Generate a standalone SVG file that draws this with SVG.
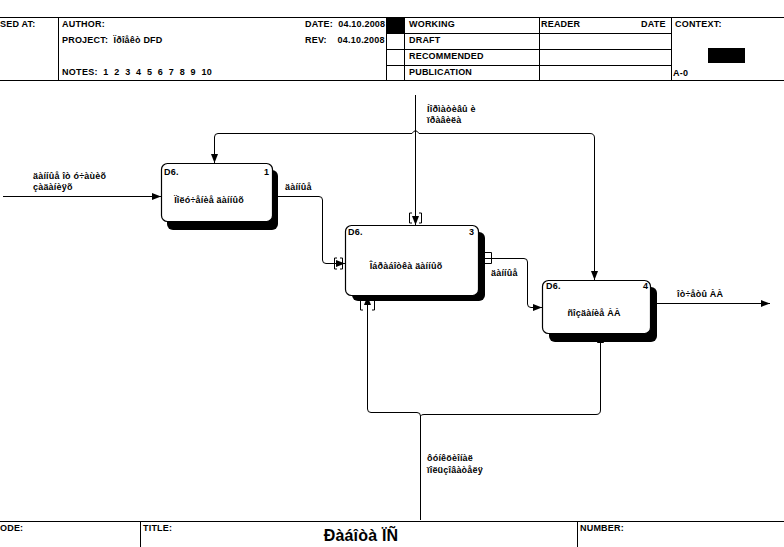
<svg xmlns="http://www.w3.org/2000/svg" width="784" height="547" viewBox="0 0 784 547">
<defs>
<style>
text{font-family:"Liberation Sans",Arial,sans-serif;font-weight:bold;font-size:9px;fill:#000;letter-spacing:0.2px;white-space:pre}
.ln{stroke:#000;stroke-width:1;fill:none}
.box{fill:#fff;stroke:#000;stroke-width:1.2}
.sh{fill:#000}
.mid{text-anchor:middle}
</style>
<marker id="ah" markerWidth="10" markerHeight="8" refX="9" refY="4" orient="auto" markerUnits="userSpaceOnUse">
<path d="M0,0.5 L9,4 L0,7.5 Z" fill="#000"/>
</marker>
</defs>
<rect width="784" height="547" fill="#fff"/>
<g id="header">
<line class="ln" x1="0" y1="17.5" x2="784" y2="17.5"/>
<line class="ln" x1="0" y1="80.5" x2="784" y2="80.5"/>
<line class="ln" x1="58.5" y1="17" x2="58.5" y2="81"/>
<line class="ln" x1="386.5" y1="17" x2="386.5" y2="81"/>
<rect x="387" y="18" width="17" height="15" fill="#000"/>
<line class="ln" x1="404.5" y1="17" x2="404.5" y2="81"/>
<line class="ln" x1="386" y1="33.5" x2="671" y2="33.5"/>
<line class="ln" x1="386" y1="49.5" x2="671" y2="49.5"/>
<line class="ln" x1="386" y1="65.5" x2="671" y2="65.5"/>
<line class="ln" x1="539.5" y1="17" x2="539.5" y2="81"/>
<line class="ln" x1="671.5" y1="17" x2="671.5" y2="81"/>
<rect x="708" y="48" width="37" height="15" fill="#000"/>
<text x="0" y="27">SED AT:</text>
<text x="62" y="27">AUTHOR:</text>
<text x="62" y="43">PROJECT:  Ïðîåêò DFD</text>
<text x="62" y="75" textLength="150" lengthAdjust="spacing">NOTES:  1  2  3  4  5  6  7  8  9  10</text>
<text x="305" y="27">DATE:  04.10.2008</text>
<text x="305" y="43">REV:    04.10.2008</text>
<text x="409" y="27">WORKING</text>
<text x="409" y="43">DRAFT</text>
<text x="409" y="59">RECOMMENDED</text>
<text x="409" y="75">PUBLICATION</text>
<text x="541" y="27">READER</text>
<text x="641" y="27">DATE</text>
<text x="675" y="27">CONTEXT:</text>
<text x="673" y="76">A-0</text>
</g>
<g id="connectors">
<line class="ln" x1="3" y1="196.5" x2="161" y2="196.5" marker-end="url(#ah)"/>
<path class="ln" d="M272,196.5 H319 Q322.5,196.5 322.5,200 V260 Q322.5,263.5 326,263.5 H345" marker-end="url(#ah)"/>
<path class="ln" d="M337,258 H334.5 V269 H337 M340,258 H342.5 V269 H340"/>
<path class="ln" d="M485,258.5 H524 Q527.5,258.5 527.5,262 V304 Q527.5,307.5 531,307.5 H542" marker-end="url(#ah)"/>
<path class="ln" d="M485,252.5 H491.5 V263.5 H485"/>
<line class="ln" x1="415.5" y1="95" x2="415.5" y2="225" marker-end="url(#ah)"/>
<path class="ln" d="M218,133.5 H412 Q415.5,128 419,133.5 H590 Q594.5,133.5 594.5,138 V280" marker-end="url(#ah)"/>
<path class="ln" d="M218,133.5 Q214.5,133.5 214.5,137 V163" marker-end="url(#ah)"/>
<path class="ln" d="M412,213 H409.5 V223 H412 M419,213 H421.5 V223 H419"/>
<path class="ln" d="M420.5,520 V416 Q420.5,412.5 417,412.5 H371 Q367.5,412.5 367.5,409 V296" marker-end="url(#ah)"/>
<path class="ln" d="M420.5,416 Q421,414.5 424,414.5 H596 Q600.5,414.5 600.5,410 V334" marker-end="url(#ah)"/>
<path class="ln" d="M363,300 H360.5 V310 H363 M372,300 H374.5 V310 H372"/>
<line class="ln" x1="657" y1="303.5" x2="770" y2="303.5" marker-end="url(#ah)"/>
</g>
<g id="labels">
<text x="33" y="179">äàííûå îò ó÷àùèõ</text>
<text x="33" y="190">çàäàíèÿõ</text>
<text x="285" y="190">äàííûå</text>
<text x="491" y="276">äàííûå</text>
<text x="427" y="112">Íîðìàòèâû è</text>
<text x="427" y="123">ïðàâèëà</text>
<text x="427" y="461">ôóíêöèîíàë</text>
<text x="427" y="473">ïîëüçîâàòåëÿ</text>
<text x="677" y="297">îò÷åòû ÀÀ</text>
</g>
<g id="node1">
<rect class="sh" x="167" y="170" width="111" height="60" rx="6"/>
<rect class="box" x="161.5" y="163.5" width="111" height="58" rx="6"/>
<text x="164" y="175">D6.</text>
<text x="264" y="175">1</text>
<text class="mid" x="209" y="203">Ïîëó÷åíèå äàííûõ</text>
</g>
<g id="node3">
<rect class="sh" x="352" y="232" width="133" height="69" rx="6"/>
<rect class="box" x="345.5" y="225.5" width="133" height="70" rx="6"/>
<text x="348" y="235">D6.</text>
<text x="469" y="235">3</text>
<text class="mid" x="406" y="269">Îáðàáîòêà äàííûõ</text>
</g>
<g id="node4">
<rect class="sh" x="549" y="287" width="108" height="55" rx="6"/>
<rect class="box" x="542.5" y="280.5" width="108" height="53" rx="6"/>
<text x="546" y="289">D6.</text>
<text x="643" y="289">4</text>
<text class="mid" x="594" y="316">ñîçäàíèå ÀÀ</text>
</g>
<g id="footer">
<line class="ln" x1="0" y1="521.5" x2="784" y2="521.5"/>
<line class="ln" x1="140.5" y1="521" x2="140.5" y2="547"/>
<line class="ln" x1="577.5" y1="521" x2="577.5" y2="547"/>
<text x="0" y="531">ODE:</text>
<text x="143" y="531">TITLE:</text>
<text x="580" y="531">NUMBER:</text>
<text class="mid" x="361" y="541" style="font-size:16px">Ðàáîòà ÏÑ</text>
</g>
</svg>
